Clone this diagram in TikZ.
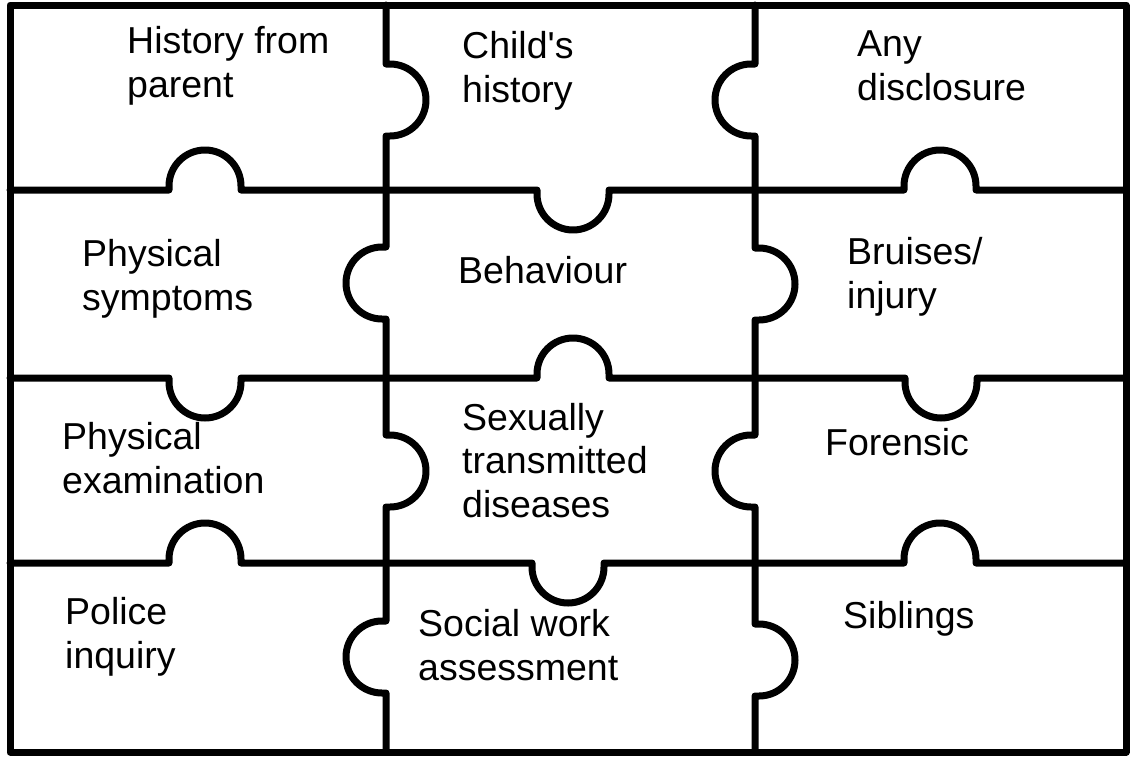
\documentclass[tikz,border=0pt]{standalone}
\usepackage{fontspec}
\setmainfont{Liberation Sans}
\begin{document}
\begin{tikzpicture}[x=1pt,y=-1pt,
  edge/.style={line width=7pt, line join=round, line cap=round},
  label/.style={anchor=base west, align=left, inner sep=0pt, font=\fontsize{37.5}{43.5}\selectfont},
  hup/.style args={#1/#2}{insert path={-- (#1-36,#2) -- (#1-36,#2-4) arc[start angle=180,end angle=360,radius=36] -- (#1+36,#2)}},
  hdown/.style args={#1/#2}{insert path={-- (#1-36,#2) -- (#1-36,#2+4) arc[start angle=180,end angle=0,radius=36] -- (#1+36,#2)}},
  vright/.style args={#1/#2}{insert path={-- (#1,#2-36) -- (#1+4,#2-36) arc[start angle=270,end angle=450,radius=36] -- (#1,#2+36)}},
  vleft/.style args={#1/#2}{insert path={-- (#1,#2-36) -- (#1-4,#2-36) arc[start angle=270,end angle=90,radius=36] -- (#1,#2+36)}}
]
\useasboundingbox (0,0) rectangle (1133,758);
% outer frame
\draw[edge] (10,5) rectangle (1126,752);
% horizontal lines
\draw[edge] (10,190) [hup=205/190] [hdown=573/190] [hup=940/190] -- (1126,190);
\draw[edge] (10,378) [hdown=205/378] [hup=573/378] [hdown=941/378] -- (1126,378);
\draw[edge] (10,563) [hup=205/563] [hdown=568/563] [hup=940/563] -- (1126,563);
% vertical lines
\draw[edge] (386,5) [vright=386/100] [vleft=386/283] [vright=386/471] [vleft=386/657] -- (386,752);
\draw[edge] (755,5) [vleft=755/100] [vright=755/284] [vleft=755/471] [vright=755/660] -- (755,752);
% labels (anchor = baseline of last line)
\node[label] (hist)   at (127,97)  {History from\\parent};
\node[label] (child)  at (462,102) {Child\textquotesingle s\\history};
\node[label] (discl)  at (857,100) {Any\\disclosure};
\node[label] (phys)   at (82,310)  {Physical\\symptoms};
\node[label] (behav)  at (458,283) {Behaviour};
\node[label] (bruis)  at (847,308) {Bruises/\\injury};
\node[label] (exam)   at (62,493)  {Physical\\examination};
\node[label] (std)    at (462,517) {Sexually\\transmitted\\diseases};
\node[label] (foren)  at (825,455) {Forensic};
\node[label] (police) at (65,668)  {Police\\inquiry};
\node[label] (social) at (418,680) {Social work\\assessment};
\node[label] (sibl)   at (843,628) {Siblings};
\end{tikzpicture}
\end{document}
